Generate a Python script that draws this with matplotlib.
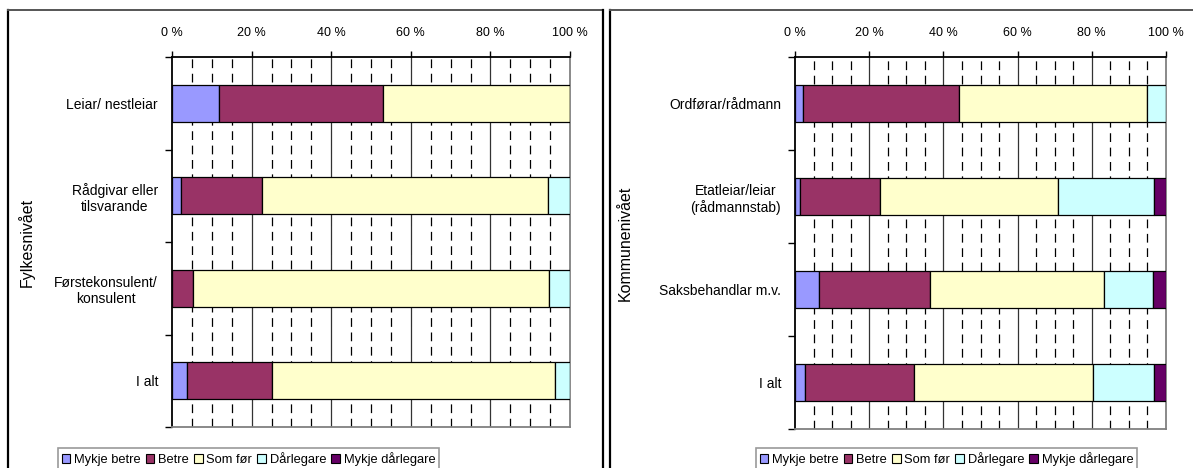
import matplotlib
matplotlib.use("Agg")
import matplotlib.pyplot as plt
import numpy as np
from matplotlib.lines import Line2D
from matplotlib.ticker import MultipleLocator, FixedLocator, FuncFormatter

plt.rcParams['font.family'] = ['Liberation Sans', 'DejaVu Sans']

series = ["Mykje betre", "Betre", "Som før", "Dårlegare", "Mykje dårlegare"]
colors = ["#9999FF", "#993366", "#FFFFCC", "#CCFFFF", "#660066"]

left_title = "Fylkesnivået"
left_cats = ["Leiar/ nestleiar", "Rådgivar eller\ntilsvarande", "Førstekonsulent/\nkonsulent", "I alt"]
left_mykje_betre = [11.7, 2.3, 0.0, 3.7]
left_betre = [41.2, 20.2, 5.3, 21.4]
left_som_for = [47.1, 72.0, 89.5, 71.1]
left_darlegare = [0.0, 5.5, 5.2, 3.8]
left_mykje_darlegare = [0.0, 0.0, 0.0, 0.0]

right_title = "Kommunenivået"
right_cats = ["Ordførar/rådmann", "Etatleiar/leiar\n(rådmannstab)", "Saksbehandlar m.v.", "I alt"]
right_mykje_betre = [2.1, 1.4, 6.6, 2.6]
right_betre = [42.0, 21.5, 29.9, 29.4]
right_som_for = [50.9, 48.1, 46.7, 48.3]
right_darlegare = [5.0, 25.8, 13.4, 16.5]
right_mykje_darlegare = [0.0, 3.2, 3.4, 3.2]

W, H = 1193, 468
fig = plt.figure(figsize=(W / 100, H / 100), dpi=100)


def fx(px):
    return px / W


def fy(py):
    return 1 - py / H


def draw_panel(rect, cats, data, ylabel, ylabel_x, legend_anchor):
    ax = fig.add_axes(rect)
    n = len(cats)
    y = np.arange(n)
    left = np.zeros(n)
    handles = []
    for vals, col, name in zip(data, colors, series):
        vals = np.array(vals, dtype=float)
        bars = ax.barh(y, vals, left=left, height=0.4, color=col,
                       edgecolor="black", linewidth=0.9, label=name, zorder=3)
        handles.append(bars)
        left = left + vals
    ax.set_xlim(0, 100)
    ax.set_ylim(n - 0.5, -0.5)
    ax.set_axisbelow(True)

    # x axis on top
    ax.xaxis.tick_top()
    ax.xaxis.set_major_locator(MultipleLocator(20))
    ax.xaxis.set_major_formatter(FuncFormatter(lambda v, p: f"{int(v)} %"))
    ax.tick_params(axis="x", which="major", direction="out", length=4,
                   width=1, pad=9, labelsize=9, color="black")
    # gridlines
    for v in range(20, 100, 20):
        ax.axvline(v, color="#333333", lw=0.9, zorder=1)
    for v in range(5, 100, 5):
        if v % 20 != 0:
            ax.axvline(v, color="black", lw=0.9, zorder=1,
                       linestyle=(0, (7, 4.5)))

    # y axis
    ax.yaxis.set_major_locator(FixedLocator(y))
    ax.set_yticklabels(cats, multialignment="center")
    ax.yaxis.set_minor_locator(FixedLocator(np.arange(n + 1) - 0.5))
    ax.tick_params(axis="y", which="major", length=0, pad=10, labelsize=10)
    ax.tick_params(axis="y", which="minor", length=5, width=1,
                   direction="out", color="black")

    for s in ["left", "top"]:
        ax.spines[s].set_color("black")
        ax.spines[s].set_linewidth(1.3)
    for s in ["right", "bottom"]:
        ax.spines[s].set_color("#808080")
        ax.spines[s].set_linewidth(1.3)

    ax.set_ylabel(ylabel, fontsize=11.5)
    ax.yaxis.set_label_coords(ylabel_x, 0.5)

    leg = ax.legend(handles=handles, loc="upper left",
                    bbox_to_anchor=legend_anchor, bbox_transform=fig.transFigure,
                    ncol=5, fontsize=9.3, frameon=True, fancybox=False,
                    handlelength=0.65, handleheight=0.65, handletextpad=0.3,
                    columnspacing=0.4, borderpad=0.3, borderaxespad=0)
    leg.get_frame().set_edgecolor("#808080")
    leg.get_frame().set_linewidth(1.2)
    for h in leg.legend_handles:
        h.set_edgecolor("black")
        h.set_linewidth(0.8)
    return ax


left_data = [left_mykje_betre, left_betre, left_som_for, left_darlegare, left_mykje_darlegare]
right_data = [right_mykje_betre, right_betre, right_som_for, right_darlegare, right_mykje_darlegare]

ax1 = draw_panel([fx(172), fy(427), fx(570) - fx(172), fy(57) - fy(427)],
                 left_cats, left_data, left_title, (35 - 172) / 398,
                 (fx(58), fy(448)))
ax2 = draw_panel([fx(795), fy(429), fx(1166) - fx(795), fy(57) - fy(429)],
                 right_cats, right_data, right_title, (633 - 795) / 371,
                 (fx(756), fy(448)))

# panel borders
def fline(x0, y0, x1, y1, color, lw):
    fig.add_artist(Line2D([fx(x0), fx(x1)], [fy(y0), fy(y1)], color=color,
                          lw=lw, transform=fig.transFigure))

fline(8, 10, 8, 470, "black", 1.6)
fline(8, 10, 603, 10, "#555555", 1.4)
fline(603, 10, 603, 470, "black", 1.6)
fline(609.5, 10, 609.5, 470, "black", 1.6)
fline(609.5, 10, 1195, 10, "#555555", 1.4)

fig.savefig("out.png", dpi=100)
